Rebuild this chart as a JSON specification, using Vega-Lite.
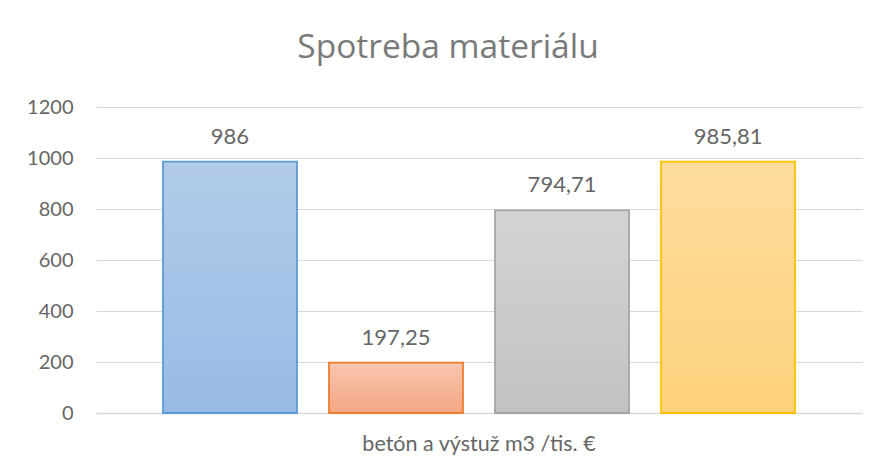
{
  "$schema": "https://vega.github.io/schema/vega-lite/v6.json",
  "autosize": {"type": "none"},
  "width": 766,
  "height": 306,
  "padding": {"left": 96, "top": 107, "right": 16, "bottom": 61},
  "background": "white",
  "title": {
    "text": "Spotreba materiálu",
    "font": "Open Sans",
    "fontSize": 33.5,
    "fontWeight": "normal",
    "color": "#7a7a7a",
    "anchor": "middle",
    "dx": -31,
    "offset": 32
  },
  "data": {
    "values": [
      {"kategoria": "betón a výstuž m3 /tis. €", "rad": "Rad 1", "hodnota": 986},
      {"kategoria": "betón a výstuž m3 /tis. €", "rad": "Rad 2", "hodnota": 197.25},
      {"kategoria": "betón a výstuž m3 /tis. €", "rad": "Rad 3", "hodnota": 794.71},
      {"kategoria": "betón a výstuž m3 /tis. €", "rad": "Rad 4", "hodnota": 985.81}
    ]
  },
  "encoding": {
    "x": {
      "field": "kategoria",
      "type": "nominal",
      "scale": {"paddingInner": 0, "paddingOuter": 0.106},
      "axis": {
        "title": null,
        "labelAngle": 0,
        "labelLimit": 0,
        "labelFont": "Lato",
        "labelFontSize": 21.5,
        "labelColor": "#666666",
        "labelPadding": 20,
        "ticks": false,
        "domain": true,
        "domainColor": "#d9d9d9",
        "domainWidth": 1.5
      }
    },
    "xOffset": {
      "field": "rad",
      "type": "nominal",
      "scale": {"paddingInner": 0.193, "paddingOuter": 0}
    },
    "y": {
      "field": "hodnota",
      "type": "quantitative",
      "scale": {"domain": [0, 1200], "nice": false},
      "axis": {
        "title": null,
        "values": [0, 200, 400, 600, 800, 1000, 1200],
        "format": "d",
        "labelFont": "Lato",
        "labelFontSize": 20,
        "labelColor": "#666666",
        "labelPadding": 23,
        "ticks": false,
        "domain": false,
        "grid": true,
        "gridColor": "#d9d9d9",
        "gridWidth": 1.2
      }
    }
  },
  "layer": [
    {
      "mark": {"type": "bar", "strokeWidth": 1.8},
      "encoding": {
        "fill": {
          "condition": [
            {"test": "datum.rad === 'Rad 1'", "value": {"gradient": "linear", "x1": 0, "y1": 0, "x2": 0, "y2": 1, "stops": [{"offset": 0, "color": "#b2cbe9"}, {"offset": 1, "color": "#98bbe5"}]}},
            {"test": "datum.rad === 'Rad 2'", "value": {"gradient": "linear", "x1": 0, "y1": 0, "x2": 0, "y2": 1, "stops": [{"offset": 0, "color": "#f8c6ae"}, {"offset": 1, "color": "#f4a683"}]}},
            {"test": "datum.rad === 'Rad 3'", "value": {"gradient": "linear", "x1": 0, "y1": 0, "x2": 0, "y2": 1, "stops": [{"offset": 0, "color": "#d4d4d4"}, {"offset": 1, "color": "#c2c2c2"}]}}
          ],
          "value": {"gradient": "linear", "x1": 0, "y1": 0, "x2": 0, "y2": 1, "stops": [{"offset": 0, "color": "#fedc9e"}, {"offset": 1, "color": "#fdd27c"}]}
        },
        "stroke": {
          "field": "rad",
          "type": "nominal",
          "scale": {"domain": ["Rad 1", "Rad 2", "Rad 3", "Rad 4"], "range": ["#5b9bd5", "#ed7d31", "#a5a5a5", "#ffc000"]},
          "legend": null
        }
      }
    },
    {
      "mark": {"type": "text", "font": "Lato", "fontSize": 22, "color": "#666666", "baseline": "alphabetic", "align": "center", "dy": -18},
      "encoding": {
        "text": {"field": "hodnota", "type": "quantitative", "format": ".2~f"}
      }
    }
  ],
  "config": {
    "view": {"stroke": null},
    "locale": {"number": {"decimal": ",", "thousands": " ", "grouping": [3], "currency": ["", " €"]}}
  }
}
